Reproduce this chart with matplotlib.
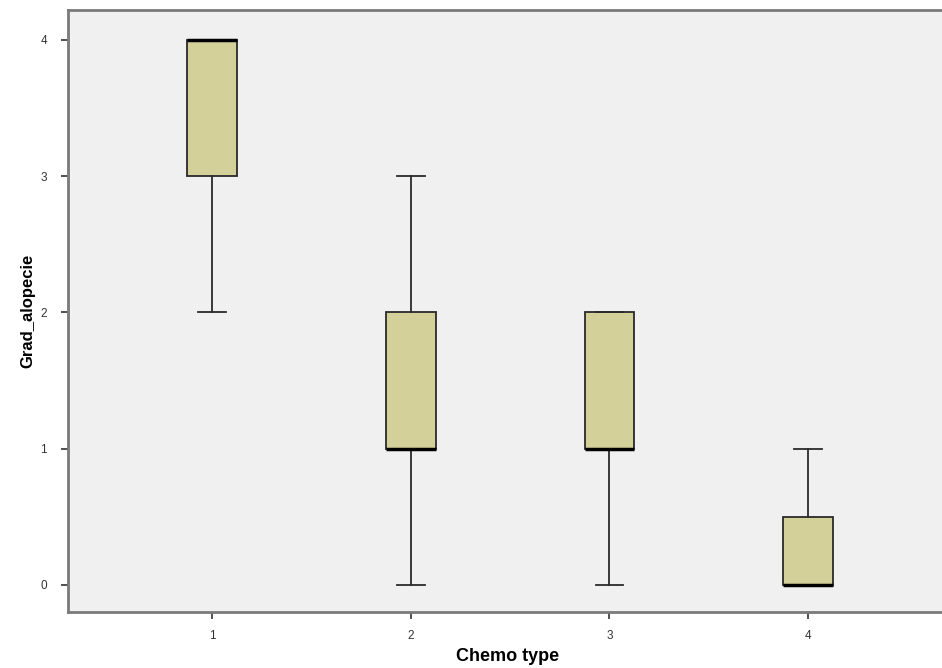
import matplotlib
matplotlib.use("Agg")
import matplotlib.pyplot as plt

plt.rcParams["font.family"] = ["Liberation Sans", "DejaVu Sans"]

# box statistics per chemo type
chemo_types = [1, 2, 3, 4]
whis_low = [2, 0, 0, 0]
q1 = [3, 1, 1, 0]
median = [4, 1, 1, 0]
q3 = [4, 2, 2, 0.5]
whis_high = [4, 3, 2, 1]

stats = []
for i, t in enumerate(chemo_types):
    stats.append({
        "label": str(t),
        "whislo": whis_low[i],
        "q1": q1[i],
        "med": median[i],
        "q3": q3[i],
        "whishi": whis_high[i],
        "fliers": [],
    })

fig = plt.figure(figsize=(9.42, 6.68), dpi=100)
ax = fig.add_axes([68 / 942, 56 / 668, 880 / 942, 602 / 668])
ax.set_facecolor("#f0f0f0")

ax.bxp(stats, positions=chemo_types, widths=0.25, patch_artist=True,
       boxprops=dict(facecolor="#d4d09a", edgecolor="#2a2a2a", linewidth=1.3),
       medianprops=dict(color="black", linewidth=2.5),
       whiskerprops=dict(color="#2a2a2a", linewidth=1.3),
       capprops=dict(color="#2a2a2a", linewidth=1.3),
       capwidths=0.14)

ax.set_xlim(0.275, 0.275 + 880 / 198.7)
ax.set_ylim(-0.2, 4.22)
ax.set_yticks([0, 1, 2, 3, 4])
ax.set_xticks(chemo_types)
ax.set_xticklabels([str(t) for t in chemo_types])

for side in ["left", "bottom", "top"]:
    ax.spines[side].set_color("#7a7a7a")
    ax.spines[side].set_linewidth(2)
ax.spines["right"].set_visible(False)

ax.tick_params(direction="out", length=5, width=1.2, color="#333333",
               labelsize=8.5, labelcolor="#333333")
ax.tick_params(axis="y", pad=10)
ax.tick_params(axis="x", pad=8)

ax.set_xlabel("Chemo type", fontsize=13, fontweight="bold", labelpad=4)
ax.set_ylabel("Grad_alopecie", fontsize=12, fontweight="bold", labelpad=4)

fig.savefig("out.png", dpi=100)
